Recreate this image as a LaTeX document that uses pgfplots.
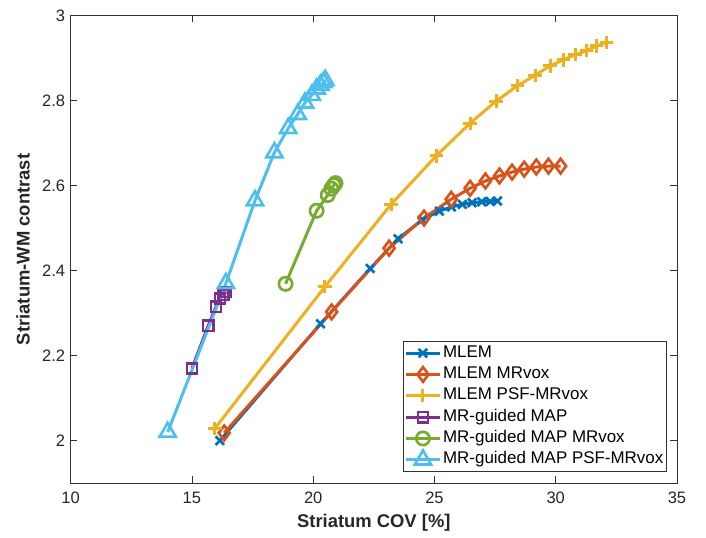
\documentclass[border=0pt]{standalone}
\usepackage{fontspec}
\setmainfont{Liberation Sans}
\usepackage{pgfplots}
\pgfplotsset{compat=1.18}

\definecolor{cA}{HTML}{0072BD}
\definecolor{cB}{HTML}{D95319}
\definecolor{cC}{HTML}{EDB120}
\definecolor{cD}{HTML}{7E2F8E}
\definecolor{cE}{HTML}{77AC30}
\definecolor{cF}{HTML}{4DBEEE}

\begin{document}
\fontsize{12}{14}\selectfont
\begin{tikzpicture}
\begin{axis}[
  scale only axis,
  width=454.7pt, height=350.5pt,
  xmin=10, xmax=35, ymin=1.9, ymax=3,
  xtick={10,15,20,25,30,35},
  ytick={2,2.2,2.4,2.6,2.8,3},
  /pgf/number format/assume math mode=true,
  tick align=inside,
  major tick length=5pt,
  tick style={black!80, line width=0.5pt},
  axis line style={black!80, line width=0.6pt},
  ticklabel style={font=\fontsize{12.4}{14}\selectfont, text=black!85},
  xticklabel style={yshift=-2.5pt},
  xlabel={\bfseries Striatum COV [\%]},
  ylabel={\bfseries Striatum-WM contrast},
  xlabel style={at={(axis description cs:0.5,-0.0856)}, anchor=center,
    font=\fontsize{13.8}{16}\selectfont, text=black!85},
  ylabel style={at={(axis description cs:-0.0787,0.5)}, anchor=center,
    rotate=0, font=\fontsize{13.8}{16}\selectfont, text=black!85},
  legend style={at={(rel axis cs:0.9835,0.0235)}, anchor=south east,
    font=\fontsize{12.7}{15}\selectfont, draw=black!80, line width=0.5pt,
    fill=white, inner sep=1pt, row sep=0pt,
    nodes={inner sep=1.5pt, text height=9.6pt, text depth=3.4pt}},
  legend cell align=left,
  legend image code/.code={
    \draw[mark repeat=2,mark phase=2,#1] plot coordinates {(0pt,0pt) (12.5pt,0pt) (25pt,0pt)};},
  every axis plot/.append style={line width=2.25pt},
]
\coordinate (sw) at (rel axis cs:0,0);
\coordinate (ne) at (rel axis cs:1,1);

\addplot[cA, mark=x, mark size=4.5pt, mark options={line width=2pt}] coordinates {
  (16.15,2.0) (20.3,2.275) (22.35,2.405) (23.5,2.475) (24.5,2.52)
  (25.2,2.54) (25.7,2.55) (26.15,2.556) (26.55,2.56) (26.95,2.562)
  (27.3,2.563) (27.6,2.564)};
\addlegendentry{MLEM}

\addplot[cB, mark=diamond, mark size=5.5pt, mark options={line width=2pt}] coordinates {
  (16.33,2.018) (20.76,2.303) (23.13,2.453) (24.57,2.524) (25.69,2.568)
  (26.47,2.594) (27.1,2.611) (27.68,2.623) (28.2,2.632) (28.7,2.639)
  (29.2,2.644) (29.7,2.646) (30.2,2.646)};
\addlegendentry{MLEM MRvox}

\addplot[cC, mark=+, mark size=5pt, mark options={line width=2.25pt}] coordinates {
  (15.95,2.029) (20.48,2.362) (23.21,2.556) (25.07,2.670) (26.47,2.747)
  (27.54,2.799) (28.42,2.835) (29.15,2.860) (29.77,2.882) (30.31,2.896)
  (30.8,2.908) (31.28,2.918) (31.69,2.929) (32.1,2.937)};
\addlegendentry{MLEM PSF-MRvox}

\addplot[cD, mark=square, mark size=3.8pt, mark options={line width=2pt}] coordinates {
  (15.0,2.17) (15.67,2.27) (15.99,2.315) (16.16,2.335) (16.3,2.343) (16.4,2.35)};
\addlegendentry{MR-guided MAP}

\addplot[cE, mark=o, mark size=5pt, mark options={line width=2pt}] coordinates {
  (18.86,2.369) (20.14,2.541) (20.6,2.578) (20.75,2.593) (20.85,2.601) (20.92,2.606)};
\addlegendentry{MR-guided MAP MRvox}

\addplot[cF, mark=triangle, mark size=7pt, mark options={line width=2pt}] coordinates {
  (14.0,2.02) (16.4,2.37) (17.6,2.565) (18.4,2.678) (18.97,2.735)
  (19.36,2.768) (19.66,2.795) (19.94,2.813) (20.14,2.828) (20.3,2.837)
  (20.42,2.843) (20.5,2.848)};
\addlegendentry{MR-guided MAP PSF-MRvox}
\end{axis}
\pgfresetboundingbox
\path ([shift={(-53pt,-40.5pt)}]sw) rectangle ([shift={(21.75pt,11.8pt)}]ne);
\end{tikzpicture}
\end{document}
